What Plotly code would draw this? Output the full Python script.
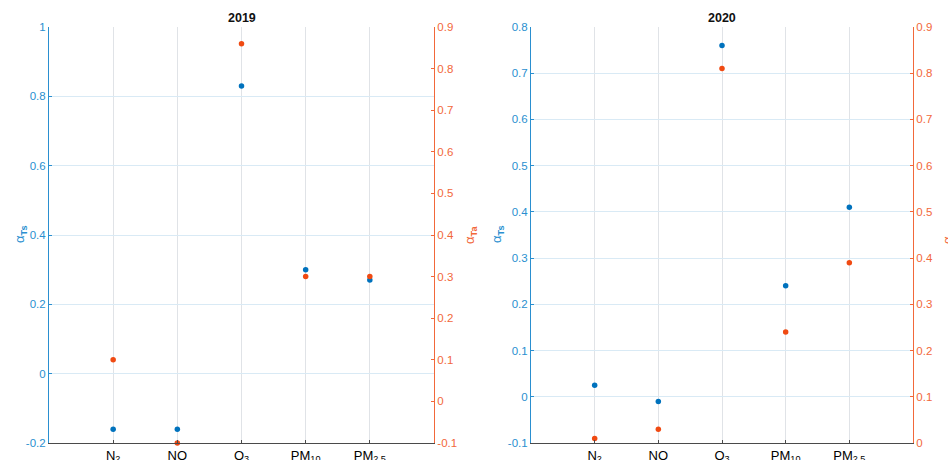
import plotly.graph_objects as go

categories = ["N<sub>2</sub>", "NO", "O<sub>3</sub>", "PM<sub>10</sub>", "PM<sub>2.5</sub>"]
cat_pos = [1, 2, 3, 4, 5]

ts_2019 = [-0.16, -0.16, 0.83, 0.30, 0.27]
ta_2019 = [0.10, -0.10, 0.86, 0.30, 0.30]
ts_2020 = [0.025, -0.01, 0.76, 0.24, 0.41]
ta_2020 = [0.01, 0.03, 0.81, 0.24, 0.39]

left_ticks_2019 = [-0.2, 0, 0.2, 0.4, 0.6, 0.8, 1]
left_text_2019 = ["-0.2", "0", "0.2", "0.4", "0.6", "0.8", "1"]
right_ticks_2019 = [-0.1, 0, 0.1, 0.2, 0.3, 0.4, 0.5, 0.6, 0.7, 0.8, 0.9]
right_text_2019 = ["-0.1", "0", "0.1", "0.2", "0.3", "0.4", "0.5", "0.6", "0.7", "0.8", "0.9"]
left_ticks_2020 = [-0.1, 0, 0.1, 0.2, 0.3, 0.4, 0.5, 0.6, 0.7, 0.8]
left_text_2020 = ["-0.1", "0", "0.1", "0.2", "0.3", "0.4", "0.5", "0.6", "0.7", "0.8"]
right_ticks_2020 = [0, 0.1, 0.2, 0.3, 0.4, 0.5, 0.6, 0.7, 0.8, 0.9]
right_text_2020 = ["0", "0.1", "0.2", "0.3", "0.4", "0.5", "0.6", "0.7", "0.8", "0.9"]

W, H = 948, 460
BLUE_M = "#0072BD"
ORANGE_M = "#F04A12"
BLUE_A = "#2A8FD0"
ORANGE_A = "#F2683A"
FONT = "Liberation Sans, Arial, sans-serif"

d1 = [49 / W, 434 / W]
d2 = [531 / W, 913 / W]
yd = [17 / H, 433 / H]

fig = go.Figure()
mk = dict(size=5.5)
fig.add_trace(go.Scatter(x=cat_pos, y=ts_2019, mode="markers", marker=dict(color=BLUE_M, **mk),
                         xaxis="x", yaxis="y", showlegend=False))
fig.add_trace(go.Scatter(x=cat_pos, y=ta_2019, mode="markers", marker=dict(color=ORANGE_M, **mk),
                         xaxis="x", yaxis="y2", showlegend=False, cliponaxis=False))
fig.add_trace(go.Scatter(x=cat_pos, y=ts_2020, mode="markers", marker=dict(color=BLUE_M, **mk),
                         xaxis="x2", yaxis="y3", showlegend=False))
fig.add_trace(go.Scatter(x=cat_pos, y=ta_2020, mode="markers", marker=dict(color=ORANGE_M, **mk),
                         xaxis="x2", yaxis="y4", showlegend=False, cliponaxis=False))

xcommon = dict(range=[0, 6], tickvals=cat_pos, ticktext=categories, showgrid=True,
               gridcolor="#E0E3E7", gridwidth=1, zeroline=False, showline=True,
               linecolor="#4A4A4A", linewidth=1, ticks="inside", ticklen=3, tickcolor="#4A4A4A",
               tickfont=dict(family=FONT, size=13, color="#000000"), fixedrange=True,
               automargin=False)

def ycommon(rng, tv, tt, color, side, grid):
    return dict(range=rng, tickvals=tv, ticktext=tt, side=side, showgrid=grid,
                gridcolor="#D9EAF5", gridwidth=1, zeroline=False, showline=True,
                linecolor=color, linewidth=1, ticks="inside", ticklen=3, tickcolor=color,
                tickfont=dict(family=FONT, size=11.5, color=color), automargin=False)

fig.update_layout(
    width=W, height=H, margin=dict(l=0, r=0, t=0, b=0, pad=0, autoexpand=False),
    paper_bgcolor="white", plot_bgcolor="white",
    xaxis=dict(domain=d1, anchor="y", **xcommon),
    xaxis2=dict(domain=d2, anchor="y3", **xcommon),
    yaxis=dict(domain=yd, anchor="x", **ycommon([-0.2, 1], left_ticks_2019, left_text_2019, BLUE_A, "left", True)),
    yaxis2=dict(overlaying="y", anchor="x", **ycommon([-0.1, 0.9], right_ticks_2019, right_text_2019, ORANGE_A, "right", False)),
    yaxis3=dict(domain=yd, anchor="x2", **ycommon([-0.1, 0.8], left_ticks_2020, left_text_2020, BLUE_A, "left", True)),
    yaxis4=dict(overlaying="y3", anchor="x2", **ycommon([0, 0.9], right_ticks_2020, right_text_2020, ORANGE_A, "right", False)),
)

ann = []
for title, dom in (("2019", d1), ("2020", d2)):
    ann.append(dict(text="<b>%s</b>" % title, x=(dom[0] + dom[1]) / 2, y=(H - 18) / H,
                    xref="paper", yref="paper", showarrow=False, xanchor="center", yanchor="middle",
                    font=dict(family=FONT, size=12.5, color="#111111")))
ymid = (H - 235) / H
for xpx, txt, col in ((20, "α<sub><b>Ts</b></sub>", BLUE_A), (470, "α<sub><b>Ta</b></sub>", ORANGE_A),
                      (497, "α<sub><b>Ts</b></sub>", BLUE_A), (948, "α<sub><b>Ta</b></sub>", ORANGE_A)):
    ann.append(dict(text=txt, x=xpx / W, y=ymid, xref="paper", yref="paper", showarrow=False,
                    textangle=-90, xanchor="center", yanchor="middle",
                    font=dict(family=FONT, size=13, color=col)))
fig.update_layout(annotations=ann)

fig.write_html("out.html", config={"displayModeBar": False},
               post_script="document.body.style.margin='0';document.body.style.overflow='hidden';")
